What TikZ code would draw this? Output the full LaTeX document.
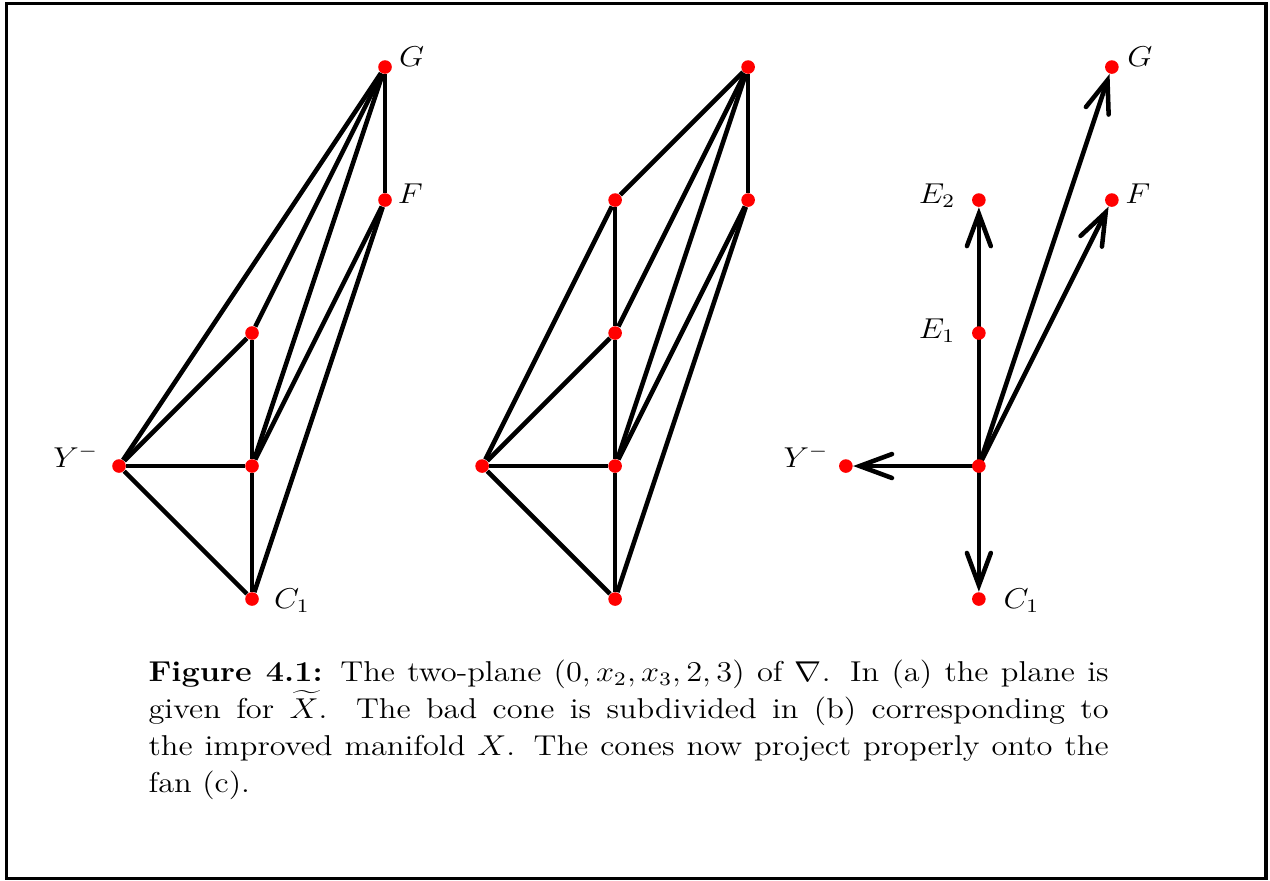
\documentclass[tikz,border=0pt]{standalone}
\usetikzlibrary{calc,arrows.meta}
\pgfdeclarelayer{fond}
\pgfsetlayers{fond,main}

\begin{document}
\begin{tikzpicture}[x=1.955cm,y=1.955cm,node distance=1.955cm]
        \tikzstyle {vertex} = [circle, fill=red, inner sep=0pt, minimum size=0.2cm]
        \tikzstyle {cone} = [line width=1.9pt]
        \tikzstyle {ray} = [line width=1.9pt, line cap=round, -{Straight Barb[length=13.5pt,width=10pt,line cap=round]}]
        \tikzstyle {lbl} = [inner sep=0pt, xscale=1.13, transform shape, font=\fontsize{12}{14}\selectfont]
        \useasboundingbox (-1.895,-3.113) rectangle (7.654,3.504);
        % Cadre
        \coordinate (cadre_haut_gauche) at (-1.846,3.481);
        \coordinate (cadre_bas_droite) at (7.624,-3.102);
        \draw[line width=1.3pt] (cadre_haut_gauche) rectangle (cadre_bas_droite);
        % (a)
        \node (Oa) [vertex] at (0,0) {};
        \node (Ya) [vertex, left of=Oa] {};
        \node (Ca) [vertex, below of=Oa] {};
        \node (Pa) [vertex, above of=Oa] {};
        \node (Fa) [vertex, above of=Pa, xshift=1.955cm] {};
        \node (Ga) [vertex, above of=Fa] {};
        \node (lab_Ga) at ($(Ga)+(0.2,0.075)$) [lbl] {$G$};
        \node (lab_Fa) at ($(Fa)+(0.19,0.045)$) [lbl] {$F$};
        \node (lab_Ya) at ($(Ya)+(-0.325,0.075)$) [lbl] {$Y^-$};
        \node (lab_Ca) at ($(Ca)+(0.3,-0.01)$) [lbl] {$C_1$};
        \begin{pgfonlayer}{fond}
        \draw[cone] (Ga) -- (Ya);
        \draw[cone] (Ga) -- (Pa);
        \draw[cone] (Ga) -- (Oa);
        \draw[cone] (Ga) -- (Fa);
        \draw[cone] (Fa) -- (Oa);
        \draw[cone] (Fa) -- (Ca);
        \draw[cone] (Pa) -- (Ya);
        \draw[cone] (Pa) -- (Oa);
        \draw[cone] (Ya) -- (Oa);
        \draw[cone] (Ya) -- (Ca);
        \draw[cone] (Oa) -- (Ca);
        \end{pgfonlayer}
        % (b)
        \node (Ob) [vertex] at (2.73,0) {};
        \node (Yb) [vertex, left of=Ob] {};
        \node (Cb) [vertex, below of=Ob] {};
        \node (Pb) [vertex, above of=Ob] {};
        \node (Qb) [vertex, above of=Pb] {};
        \node (Fb) [vertex, right of=Qb] {};
        \node (Gb) [vertex, above of=Fb] {};
        \begin{pgfonlayer}{fond}
        \draw[cone] (Gb) -- (Qb);
        \draw[cone] (Gb) -- (Pb);
        \draw[cone] (Gb) -- (Ob);
        \draw[cone] (Gb) -- (Fb);
        \draw[cone] (Fb) -- (Ob);
        \draw[cone] (Fb) -- (Cb);
        \draw[cone] (Qb) -- (Yb);
        \draw[cone] (Qb) -- (Pb);
        \draw[cone] (Pb) -- (Yb);
        \draw[cone] (Pb) -- (Ob);
        \draw[cone] (Yb) -- (Ob);
        \draw[cone] (Yb) -- (Cb);
        \draw[cone] (Ob) -- (Cb);
        \end{pgfonlayer}
        % (c) eventail
        \node (Oc) [vertex] at (5.465,0) {};
        \node (Yc) [vertex, left of=Oc] {};
        \node (Cc) [vertex, below of=Oc] {};
        \node (E1c) [vertex, above of=Oc] {};
        \node (E2c) [vertex, above of=E1c] {};
        \node (Fc) [vertex, right of=E2c] {};
        \node (Gc) [vertex, above of=Fc] {};
        \node (lab_Gc) at ($(Gc)+(0.21,0.075)$) [lbl] {$G$};
        \node (lab_Fc) at ($(Fc)+(0.195,0.045)$) [lbl] {$F$};
        \node (lab_E2c) at ($(E2c)+(-0.315,0.03)$) [lbl] {$E_2$};
        \node (lab_E1c) at ($(E1c)+(-0.315,0.02)$) [lbl] {$E_1$};
        \node (lab_Yc) at ($(Yc)+(-0.3,0.075)$) [lbl] {$Y^-$};
        \node (lab_Cc) at ($(Cc)+(0.32,-0.01)$) [lbl] {$C_1$};
        \begin{pgfonlayer}{fond}
        \draw[ray] (Oc) -- (Yc);
        \draw[ray] (Oc) -- (Cc);
        \draw[ray] (Oc) -- (E2c);
        \draw[ray] (Oc) -- (Fc);
        \draw[ray] (Oc) -- (Gc);
        \end{pgfonlayer}
        % Legende
        \node (legende) at (-0.782,-1.451) [anchor=north west, xscale=1.13, transform shape, text width=12.49cm, align=justify, inner sep=0pt, font=\fontsize{12}{15.5}\selectfont]
        {\textbf{Figure 4.1:} The two-plane $(0,x_2,x_3,2,3)$ of $\nabla$. In (a) the plane is\linebreak given for $\widetilde{X}$. The bad cone is subdivided in (b) corresponding to\linebreak the improved manifold $X$. The cones now project properly onto the\linebreak fan (c).};
\end{tikzpicture}
\end{document}
